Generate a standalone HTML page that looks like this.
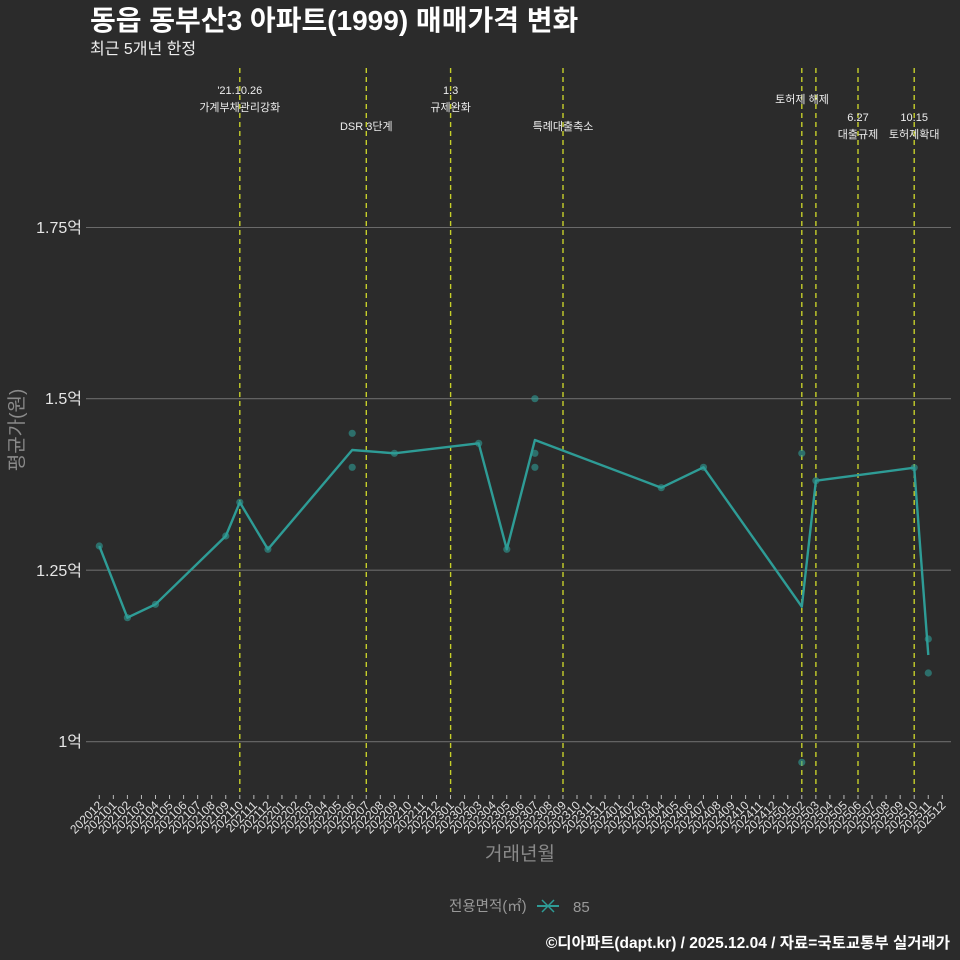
<!DOCTYPE html>
<html><head><meta charset="utf-8">
<style>
html,body{margin:0;padding:0;background:#2b2b2b;}
svg{display:block;}
text{font-family:"Liberation Sans","Noto Sans CJK KR",sans-serif;}
</style></head>
<body>
<svg width="960" height="960" viewBox="0 0 960 960" xmlns="http://www.w3.org/2000/svg">
<rect x="0" y="0" width="960" height="960" fill="#2b2b2b"/>
<!-- title -->
<text x="90" y="30" font-size="28" font-weight="bold" fill="#ffffff">동읍 동부산3 아파트(1999) 매매가격 변화</text>
<text x="90" y="54" font-size="16" fill="#eeeeee">최근 5개년 한정</text>

<!-- grid -->
<g stroke="#6a6a6a" stroke-width="1.1">
<line x1="86" y1="227.5" x2="951" y2="227.5"/>
<line x1="86" y1="398.7" x2="951" y2="398.7"/>
<line x1="86" y1="570.2" x2="951" y2="570.2"/>
<line x1="86" y1="741.7" x2="951" y2="741.7"/>
</g>
<g font-size="16" fill="#e6e6e6" text-anchor="end">
<text x="82" y="233">1.75억</text>
<text x="82" y="404">1.5억</text>
<text x="82" y="576">1.25억</text>
<text x="82" y="747">1억</text>
</g>
<text transform="translate(23,430) rotate(-90)" font-size="19" fill="#8a8a8a" text-anchor="middle">평균가(원)</text>

<!-- vertical dashed event lines -->
<g stroke="#c6cf2a" stroke-width="1.4" stroke-dasharray="5,4">
<line x1="239.8" y1="68" x2="239.8" y2="792"/>
<line x1="366.3" y1="68" x2="366.3" y2="792"/>
<line x1="450.6" y1="68" x2="450.6" y2="792"/>
<line x1="563" y1="68" x2="563" y2="792"/>
<line x1="801.8" y1="68" x2="801.8" y2="792"/>
<line x1="815.9" y1="68" x2="815.9" y2="792"/>
<line x1="858" y1="68" x2="858" y2="792"/>
<line x1="914.2" y1="68" x2="914.2" y2="792"/>
</g>
<g font-size="11" fill="#eeeeee" text-anchor="middle">
<text x="239.8" y="94">'21.10.26</text>
<text x="239.8" y="111">가계부채관리강화</text>
<text x="366.3" y="130">DSR 3단계</text>
<text x="450.6" y="94">1.3</text>
<text x="450.6" y="111">규제완화</text>
<text x="563" y="130">특례대출축소</text>
<text x="802" y="103">토허제 해제</text>
<text x="858" y="121">6.27</text>
<text x="858" y="138">대출규제</text>
<text x="914.2" y="121">10.15</text>
<text x="914.2" y="138">토허제확대</text>
</g>

<!-- line series -->
<polyline fill="none" stroke="#2e9c96" stroke-width="2.4" stroke-linejoin="round" points="99.3,546 127.4,617.7 155.5,604.3 225.8,536 239.8,502.3 267.9,549.3 352.2,450 394.4,453.3 478.7,443.3 506.8,549.3 534.9,440 661.3,487.7 703.5,467.3 801.8,606.7 815.9,480.7 914.2,467.7 928.3,655"/>
<g fill="#2e9c96" fill-opacity="0.6">
<circle cx="99.3" cy="546" r="3.6"/>
<circle cx="127.4" cy="617.7" r="3.6"/>
<circle cx="155.5" cy="604.3" r="3.6"/>
<circle cx="225.8" cy="536" r="3.6"/>
<circle cx="239.8" cy="502.3" r="3.6"/>
<circle cx="267.9" cy="549.3" r="3.6"/>
<circle cx="352.2" cy="433.3" r="3.6"/>
<circle cx="352.2" cy="467.3" r="3.6"/>
<circle cx="394.4" cy="453.3" r="3.6"/>
<circle cx="478.7" cy="443.3" r="3.6"/>
<circle cx="506.8" cy="549.3" r="3.6"/>
<circle cx="534.9" cy="398.7" r="3.6"/>
<circle cx="534.9" cy="453.3" r="3.6"/>
<circle cx="534.9" cy="467.3" r="3.6"/>
<circle cx="661.3" cy="487.7" r="3.6"/>
<circle cx="703.5" cy="467.3" r="3.6"/>
<circle cx="801.8" cy="453.3" r="3.6"/>
<circle cx="801.8" cy="762.3" r="3.6"/>
<circle cx="815.9" cy="480.7" r="3.6"/>
<circle cx="914.2" cy="467.7" r="3.6"/>
<circle cx="928.3" cy="639" r="3.6"/>
<circle cx="928.3" cy="673" r="3.6"/>
</g>

<!-- x ticks & labels -->
<g id="xt" stroke="#bbbbbb" stroke-width="1"></g>
<g id="xl" font-size="12" fill="#e0e0e0" text-anchor="end"></g>
<text x="520" y="860" font-size="19" fill="#8a8a8a" text-anchor="middle">거래년월</text>

<!-- legend -->
<text x="449" y="911" font-size="14.5" fill="#999999">전용면적(㎡)</text>
<line x1="537" y1="906" x2="559" y2="906" stroke="#2e9c96" stroke-width="2"/>
<line x1="542" y1="900" x2="554" y2="912" stroke="#2e9c96" stroke-width="1.5"/>
<line x1="554" y1="900" x2="542" y2="912" stroke="#2e9c96" stroke-width="1.5"/>
<text x="573" y="912" font-size="15" fill="#999999">85</text>

<!-- footer -->
<text x="950" y="948" font-size="15.5" font-weight="bold" fill="#ffffff" text-anchor="end">©디아파트(dapt.kr) / 2025.12.04 / 자료=국토교통부 실거래가</text>
</svg>
<script>
(function(){
var ns="http://www.w3.org/2000/svg";
var xt=document.getElementById("xt"), xl=document.getElementById("xl");
for(var i=0;i<=60;i++){
  var x=99.3+i*14.05;
  var m=(12+i-1)%12+1, y=2020+Math.floor((11+i)/12);
  var l=document.createElementNS(ns,"line");
  l.setAttribute("x1",x);l.setAttribute("x2",x);l.setAttribute("y1",795);l.setAttribute("y2",799);
  xt.appendChild(l);
  var t=document.createElementNS(ns,"text");
  t.setAttribute("transform","translate("+(x+4)+",806) rotate(-45)");
  t.textContent=""+y+(m<10?"0"+m:m);
  xl.appendChild(t);
}
})();
</script>
</body></html>
